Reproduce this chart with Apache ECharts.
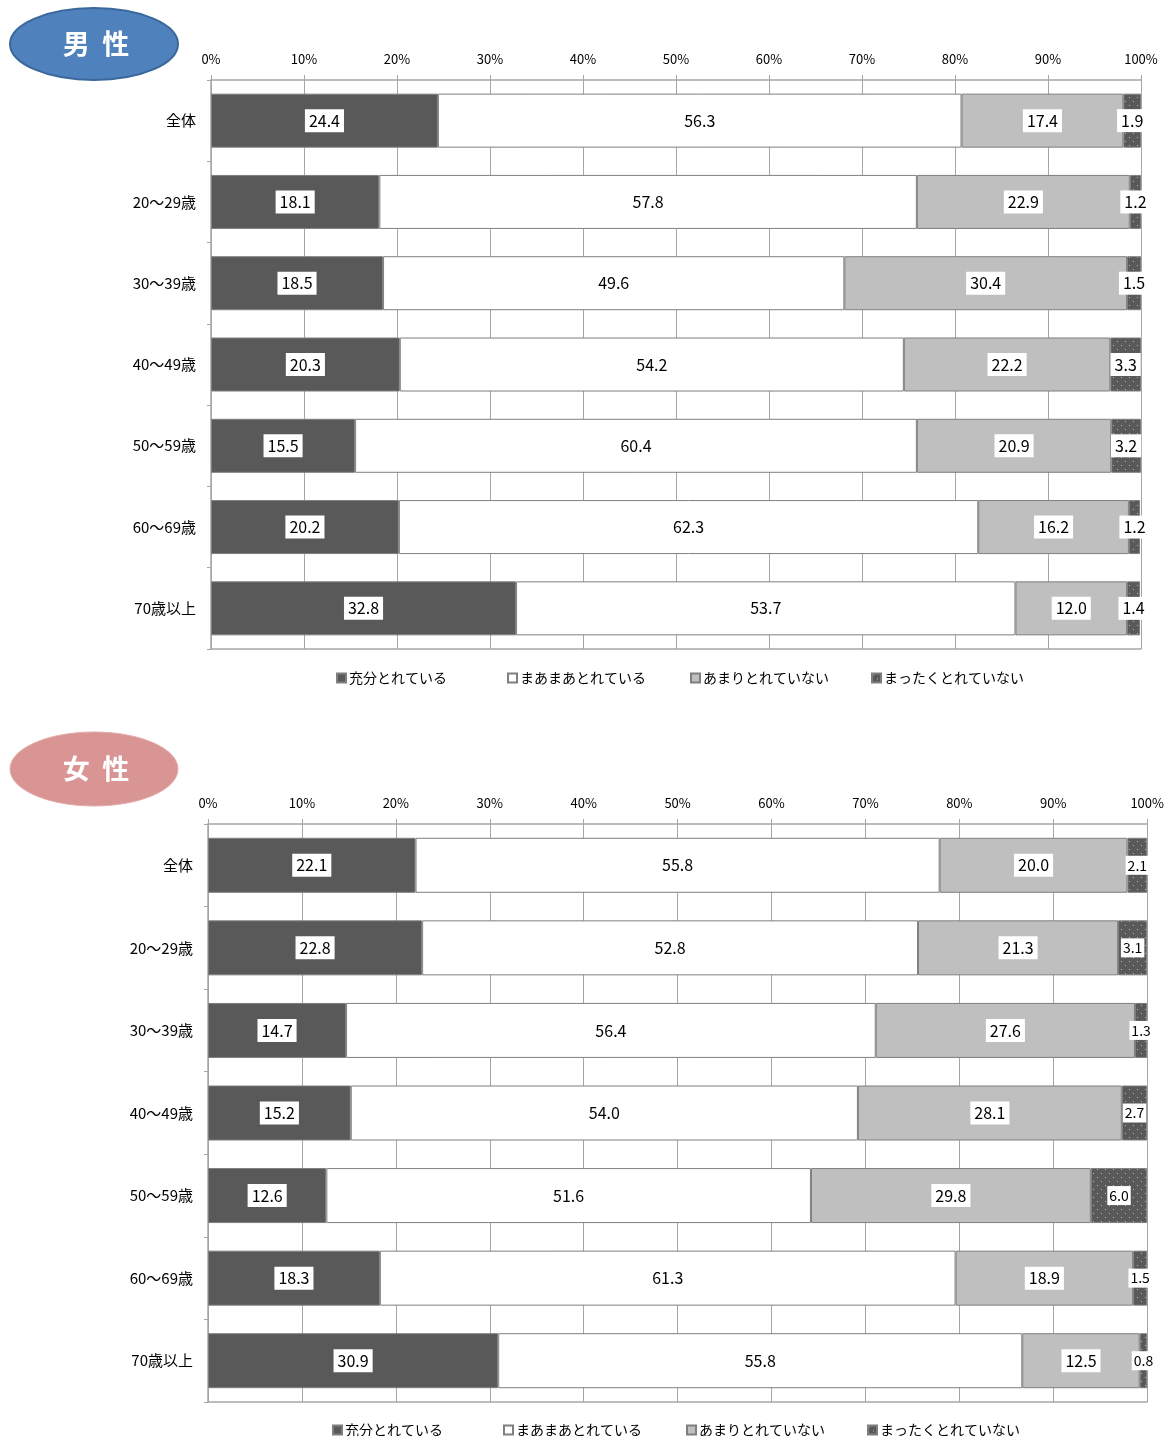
<!DOCTYPE html>
<html><head><meta charset="utf-8">
<script src="https://cdn.jsdelivr.net/npm/echarts@6/dist/echarts.min.js"></script>
<style>html,body{margin:0;padding:0;background:#fff}#c{width:1167px;height:1436px}</style>
</head><body><div id="c"></div>
<script>
const categories = ['全体','20～29歳','30～39歳','40～49歳','50～59歳','60～69歳','70歳以上'];
const seriesNames = ['充分とれている','まあまあとれている','あまりとれていない','まったくとれていない'];
const tickLabels = ['0%','10%','20%','30%','40%','50%','60%','70%','80%','90%','100%'];
const maleEnough = [24.4,18.1,18.5,20.3,15.5,20.2,32.8];
const maleSomewhat = [56.3,57.8,49.6,54.2,60.4,62.3,53.7];
const maleNotMuch = [17.4,22.9,30.4,22.2,20.9,16.2,12.0];
const maleNotAtAll = [1.9,1.2,1.5,3.3,3.2,1.2,1.4];
const femaleEnough = [22.1,22.8,14.7,15.2,12.6,18.3,30.9];
const femaleSomewhat = [55.8,52.8,56.4,54.0,51.6,61.3,55.8];
const femaleNotMuch = [20.0,21.3,27.6,28.1,29.8,18.9,12.5];
const femaleNotAtAll = [2.1,3.1,1.3,2.7,6.0,1.5,0.8];

const FONT = '"Noto Sans CJK JP", sans-serif';
const pc = document.createElement('canvas');
pc.width = 8; pc.height = 8;
const g = pc.getContext('2d');
g.fillStyle = '#595959'; g.fillRect(0,0,8,8);
g.fillStyle = '#b8b8b8'; g.fillRect(1,1,1,1); g.fillRect(5,5,1,1);
const dotPattern = {image: pc, repeat: 'repeat'};
const colors = ['#595959','#ffffff','#bfbfbf',dotPattern];

const chart = echarts.init(document.getElementById('c'), null, {renderer:'canvas'});

const grids = [
  {left:211, width:930, top:80, height:569},
  {left:208, width:941, top:824, height:578}
];
const data = [
  [maleEnough, maleSomewhat, maleNotMuch, maleNotAtAll],
  [femaleEnough, femaleSomewhat, femaleNotMuch, femaleNotAtAll]
];
const xAxes = [], yAxes = [], series = [];
grids.forEach((gr, i) => {
  xAxes.push({
    gridIndex:i, type:'value', position:'top', min:0, max:100, interval:10,
    axisLabel:{formatter:(v)=>tickLabels[v/10], fontFamily:FONT, fontSize:13, color:'#000', margin:14},
    axisLine:{show:true, lineStyle:{color:'#a6a6a6', width:1.5}},
    axisTick:{show:true, length:5, lineStyle:{color:'#a6a6a6'}},
    splitLine:{show:true, lineStyle:{color:'#a6a6a6', width:1}}
  });
  xAxes.push({
    gridIndex:i, type:'value', position:'bottom', min:0, max:100,
    axisLabel:{show:false}, axisTick:{show:false}, splitLine:{show:false},
    axisLine:{show:true, lineStyle:{color:'#a6a6a6', width:1.5}}
  });
  yAxes.push({
    gridIndex:i, type:'category', data:categories, inverse:true,
    axisLabel:{fontFamily:FONT, fontSize:15, color:'#000', margin:15},
    axisLine:{show:true, lineStyle:{color:'#a6a6a6', width:1.5}},
    axisTick:{show:true, length:4, lineStyle:{color:'#a6a6a6'}}
  });
  data[i].forEach((arr, k) => {
    series.push({
      name: seriesNames[k], type:'bar', stack:'s'+i, xAxisIndex:i*2, yAxisIndex:i,
      data: arr, barWidth: i===0?54:55,
      itemStyle:{color: colors[k], borderColor:'#7f7f7f', borderWidth:1},
      label:{show:true, position:'inside', formatter:(p)=>p.value.toFixed(1),
        fontFamily:FONT, fontSize:(i===1 && k===3)?14:16, color:'#000',
        backgroundColor:'#fff', padding:(i===1 && k===3)?[3,2,2,2]:[4,4,3,4]},
      emphasis:{disabled:true}, animation:false
    });
  });
});

const legendPos = [[331,502,685,866],[327,498,681,862]];
const legendTop = [666, 1418];
const legends = [];
[0,1].forEach(i => {
  seriesNames.forEach((n,k) => {
    legends.push({
      left: legendPos[i][k], top: legendTop[i], data:[n], icon:'rect',
      itemWidth:9, itemHeight:9, itemGap:3,
      textStyle:{fontFamily:FONT, fontSize:14, color:'#000', padding:[0,0,0,-2]},
      selectedMode:false
    });
  });
});

chart.setOption({
  animation:false,
  grid: grids,
  xAxis: xAxes,
  yAxis: yAxes,
  series: series,
  legend: legends,
  graphic: [
    {type:'ellipse', shape:{cx:94, cy:44, rx:84, ry:36},
     style:{fill:'#4f81bd', stroke:'#3b679b', lineWidth:2}},
    {type:'text', x:96, y:44, style:{text:'男  性', fill:'#fff', font:'bold 27px "Noto Sans CJK JP"', align:'center', verticalAlign:'middle'}},
    {type:'ellipse', shape:{cx:94, cy:769, rx:84, ry:37},
     style:{fill:'#d99594', stroke:'#e2aaa9', lineWidth:1}},
    {type:'text', x:96, y:769, style:{text:'女  性', fill:'#fff', font:'bold 27px "Noto Sans CJK JP"', align:'center', verticalAlign:'middle'}}
  ]
});
</script></body></html>
